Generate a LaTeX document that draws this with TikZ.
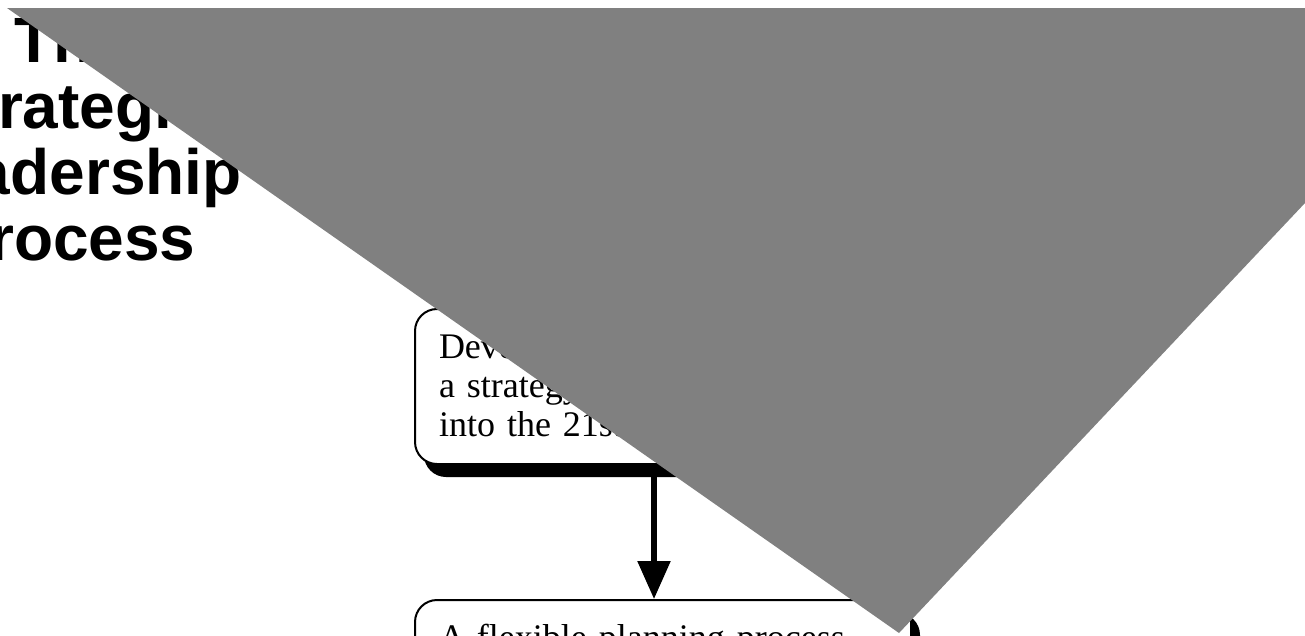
\documentclass[tikz,border=0pt]{standalone}
\usepackage{fontspec}
\setmainfont{Liberation Serif}
\newfontfamily\titlefont{Liberation Sans}
\usetikzlibrary{positioning, shadows, arrows.meta}
\definecolor{veil}{RGB}{128,128,128}

\begin{document}
\begin{tikzpicture}[x=1pt, y=-1pt, node distance=134pt,
    heading/.style={font=\titlefont\bfseries\fontsize{64}{66}\selectfont, anchor=base, inner sep=0pt},
    stepbox/.style={draw, line width=2pt, rounded corners=22pt, fill=white, align=left,
        text width=448pt, inner sep=24pt, text height=25pt, text depth=82pt,
        font=\fontsize{36}{39}\selectfont,
        drop shadow={shadow xshift=9pt, shadow yshift=-13pt, fill=black, opacity=1}}]
    \useasboundingbox (0,0) rectangle (1305,635);
    %
    \foreach \word [count=\i] in {The,Strategic,Leadership,Process}
        \node [heading] (h\i) at (71, 62+66.3*\i-66.3) {\word};
    %
    \node [stepbox, anchor=north west] (dev) at (414,308) {Develop\\a strategy\\into the 21st};
    \node [stepbox, below=of dev] (plan) {A flexible planning process};
    %
    \draw [line width=5.5pt, -{Triangle[width=32pt, length=38pt]}] ([xshift=-9pt]dev.south) -- ([xshift=-9pt]plan.north);
    %
    \fill [veil] (7,8) -- (1305,8) -- (1305,203) -- (899,633) -- cycle;
\end{tikzpicture}
\end{document}
